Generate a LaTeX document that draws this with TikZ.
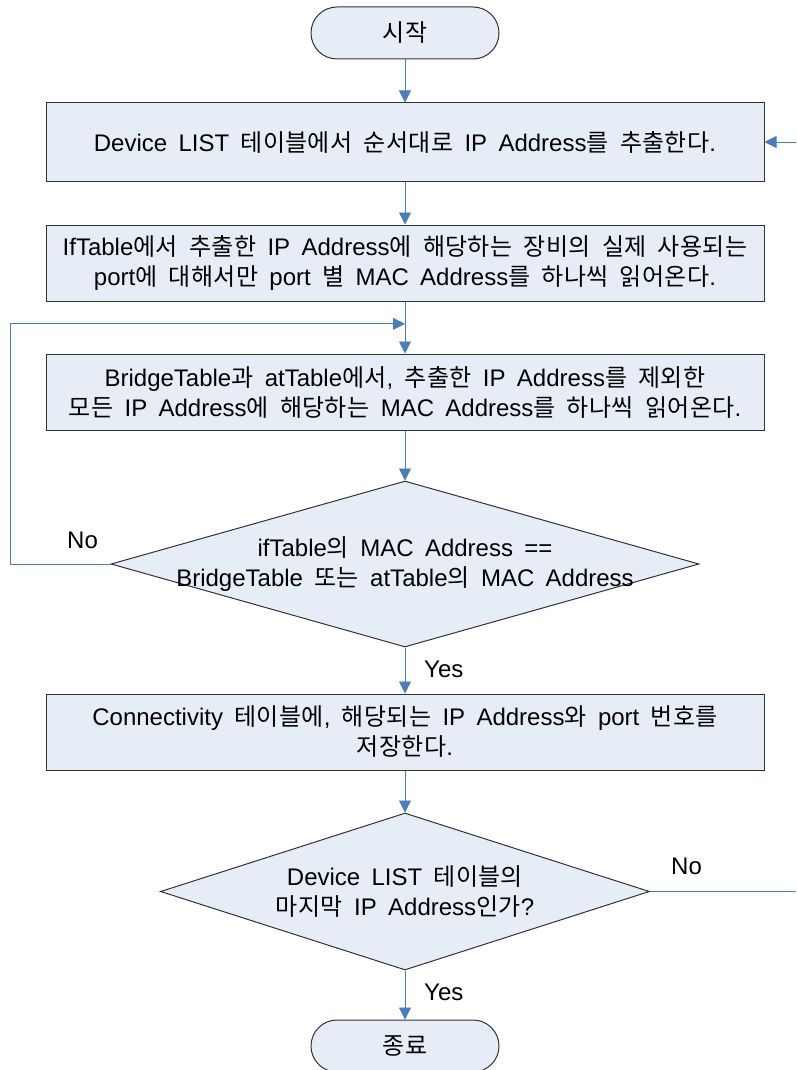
\documentclass[tikz,border=0pt]{standalone}
\usepackage{fontspec}
\setmainfont{Liberation Sans}[WordSpace=1.7]
\newfontfamily\krfont{Noto Sans CJK KR}[LetterSpace=1.5]
\usetikzlibrary{arrows.meta,positioning,shapes.geometric,calc}
\definecolor{boxfill}{HTML}{E7EDF6}
\definecolor{flowblue}{HTML}{4A7EBB}
\definecolor{edgegray}{HTML}{333333}

% Hangul syllables switch to the Korean font
\XeTeXinterchartokenstate=1
\newXeTeXintercharclass\hangulclass
\newcount\hgcode
\hgcode="AC00
\loop
  \XeTeXcharclass\hgcode=\hangulclass
  \ifnum\hgcode<"D7A3 \advance\hgcode by 1
\repeat
\XeTeXinterchartoks 0 \hangulclass = {\begingroup\krfont}
\XeTeXinterchartoks 4095 \hangulclass = {\begingroup\krfont}
\XeTeXinterchartoks \hangulclass 0 = {\endgroup}
\XeTeXinterchartoks \hangulclass 4095 = {\endgroup}

\begin{document}
\begin{tikzpicture}[
x=1pt, y=1pt,
font=\fontsize{24}{30}\selectfont,
terminal/.style={draw=edgegray, fill=boxfill, rounded corners=26pt, minimum width=188pt, minimum height=52pt, line width=1pt},
process/.style={draw=edgegray, fill=boxfill, align=center, minimum width=718pt, line width=1pt},
decision/.style={draw=edgegray, fill=boxfill, diamond, inner sep=0pt, line width=1pt},
arrow/.style={-{Triangle[length=12pt,width=12pt]}, flowblue, line width=0.9pt},
link/.style={flowblue, line width=0.9pt},
answer/.style={anchor=west, inner sep=0pt}
]
\useasboundingbox (0,0) rectangle (796,-1070);
\node[terminal] (start) at (405,-33) {시작};
\node[process, minimum height=78pt, below=43pt of start] (fetch) {Device LIST 테이블에서 순서대로 IP Address를 추출한다.};
\node[process, minimum height=76pt, below=43pt of fetch] (ports) {IfTable에서 추출한 IP Address에 해당하는 장비의 실제 사용되는\\port에 대해서만 port 별 MAC Address를 하나씩 읽어온다.};
\node[process, minimum height=76pt, below=52pt of ports] (bridge) {BridgeTable과 atTable에서, 추출한 IP Address를 제외한\\모든 IP Address에 해당하는 MAC Address를 하나씩 읽어온다.};
\node[decision, minimum width=588pt, minimum height=166pt, below=50pt of bridge,
  label={[align=center]center:{ifTable의 MAC Address ==\\BridgeTable 또는 atTable의 MAC Address}}] (match) {};
\node[process, minimum height=76pt, below=46pt of match] (store) {Connectivity 테이블에, 해당되는 IP Address와 port 번호를\\저장한다.};
\node[decision, minimum width=489pt, minimum height=157pt, below=42pt of store,
  label={[align=center]center:{Device LIST 테이블의\\마지막 IP Address인가?}}] (last) {};
\node[terminal, below=49pt of last] (finish) {종료};

\coordinate (merge) at ($(ports.south)!0.43!(bridge.north)$);
\coordinate (rexit) at (last.east -| 796,0);
\coordinate (rentry) at (fetch.east -| 796,0);

\draw[arrow] (start) -- (fetch);
\draw[arrow] (fetch) -- (ports);
\draw[arrow] (ports) -- (bridge);
\draw[arrow] (bridge) -- (match);
\draw[arrow] (match) -- (store);
\draw[arrow] (store) -- (last);
\draw[arrow] (last) -- (finish);
\draw[arrow] (match.west) -- (match.west -| 10,0) |- (merge);
\draw[link] (last.east) -- (rexit);
\draw[arrow] (rentry) -- (fetch.east);

\node[answer] (nolft) at (67,-540) {No};
\node[answer] (yesmid) at (424,-669) {Yes};
\node[answer] (norgt) at (671,-866) {No};
\node[answer] (yesend) at (424,-992) {Yes};
\end{tikzpicture}
\end{document}
